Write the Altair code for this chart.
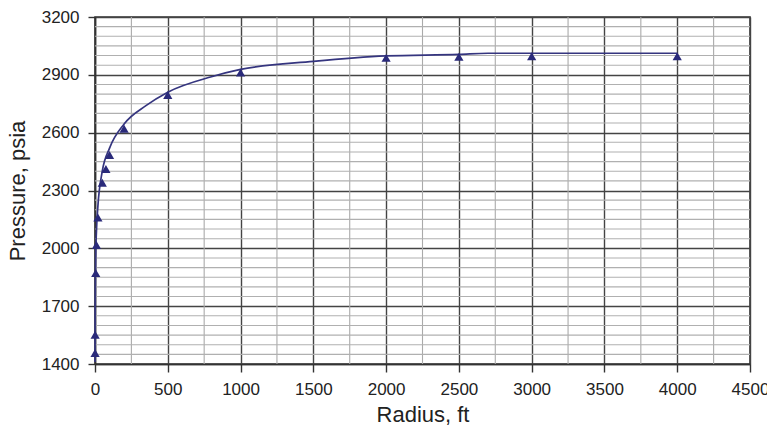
import altair as alt
import pandas as pd

# Measured points (triangles)
radius_pts = [0.5, 1, 5, 10, 20, 50, 75, 100, 200, 500, 1000, 2000, 2500, 3000, 4000]
pressure_pts = [1457, 1552, 1872, 2017, 2160, 2340, 2411, 2484, 2620, 2795, 2912, 2988, 2994, 2997, 2997]

# Smooth curve
radius_curve = [0.25, 1, 5, 10, 20, 50, 100, 200, 350, 500, 800, 1000, 1500, 2000, 2500, 2700, 3000, 4000]
pressure_curve = [1410, 1650, 1960, 2090, 2220, 2400, 2520, 2645, 2740, 2810, 2890, 2928, 2970, 2998, 3006, 3012, 3012, 3012]

x_major = [0, 500, 1000, 1500, 2000, 2500, 3000, 3500, 4000, 4500]
x_minor = [250, 750, 1250, 1750, 2250, 2750, 3250, 3750, 4250]
y_major = [1400, 1700, 2000, 2300, 2600, 2900, 3200]
y_minor = [v for v in range(1450, 3200, 50) if (v - 1400) % 300 != 0]

pts = pd.DataFrame({"r": radius_pts, "p": pressure_pts})
crv = pd.DataFrame({"r": radius_curve, "p": pressure_curve})
xm = pd.DataFrame({"v": x_minor})
ym = pd.DataFrame({"v": y_minor})

FONT = "Liberation Sans"
xscale = alt.Scale(domain=[0, 4500], nice=False, zero=False)
yscale = alt.Scale(domain=[1400, 3200], nice=False, zero=False)

xaxis = alt.Axis(values=x_major, format="d", title="Radius, ft", grid=True, gridColor="#444444",
                 gridWidth=1.4, tickColor="#333333", tickSize=8, tickWidth=1.4,
                 domainColor="#333333", domainWidth=1.6, labelFont=FONT, labelFontSize=17,
                 labelColor="#222222", labelPadding=9, titleFont=FONT, titleFontSize=22,
                 titleFontWeight="normal", titleColor="#222222", titlePadding=7,
                 labelFlush=False, labelOverlap=False)
yaxis = alt.Axis(values=y_major, format="d", title="Pressure, psia", grid=True,
                 gridColor="#444444", gridWidth=1.4, tickColor="#333333", tickSize=7,
                 tickWidth=1.4, domainColor="#333333", domainWidth=1.6, labelFont=FONT,
                 labelFontSize=17, labelColor="#222222", labelPadding=9, titleFont=FONT,
                 titleFontSize=22, titleFontWeight="normal", titleColor="#222222",
                 titlePadding=12, labelFlush=False, labelOverlap=False)

vminor = alt.Chart(xm).mark_rule(color="#aaaaaa", strokeWidth=1.1).encode(
    x=alt.X("v:Q", scale=xscale, axis=xaxis))
hminor = alt.Chart(ym).mark_rule(color="#b0b0b0", strokeWidth=1.1).encode(
    y=alt.Y("v:Q", scale=yscale, axis=yaxis))

line = alt.Chart(crv).mark_line(color="#35357f", strokeWidth=1.7, interpolate="monotone").encode(
    x=alt.X("r:Q", scale=xscale, axis=xaxis),
    y=alt.Y("p:Q", scale=yscale, axis=yaxis))

points = alt.Chart(pts).mark_point(shape="triangle-up", filled=True, size=85, opacity=1,
                                   color="#2a2a7a").encode(
    x=alt.X("r:Q", scale=xscale, axis=xaxis),
    y=alt.Y("p:Q", scale=yscale, axis=yaxis))

chart = alt.layer(vminor, hminor, line, points).properties(
    width=655, height=347,
    autosize=alt.AutoSizeParams(type="none"),
    padding={"left": 95, "top": 17, "right": 17, "bottom": 67},
    background="white",
).configure_view(stroke="#333333", strokeWidth=1.6)

chart.save("out.html", embed_options={"renderer": "svg", "actions": False})
